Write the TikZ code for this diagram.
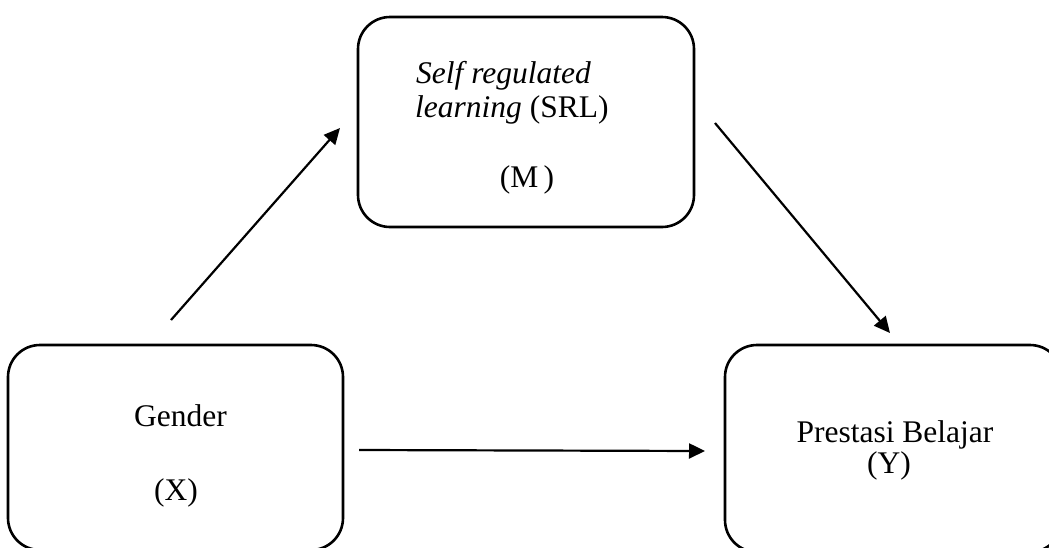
\documentclass[tikz,border=0pt]{standalone}
\usepackage{fontspec}
\setmainfont{Liberation Serif}
\usetikzlibrary{arrows.meta}
\begin{document}
\begin{tikzpicture}[x=1pt,y=-1pt,
  box/.style={draw,line width=2.6pt,rounded corners=32pt,inner sep=0pt},
  lbl/.style={inner sep=0pt,font=\fontsize{31.5}{34}\selectfont},
  arr/.style={line width=2.2pt,-{Triangle[length=16pt,width=15pt]}}]
\useasboundingbox (0,0) rectangle (1049,547);
\clip (0,0) rectangle (1049,547);
% boxes
\node[box,minimum width=336pt,minimum height=210pt] (M) at (526,122) {};
\node[box,minimum width=335pt,minimum height=205pt] (X) at (175.5,447.5) {};
\node[box,minimum width=337pt,minimum height=207pt] (Y) at (893.5,448.5) {};
% texts
\node[lbl,anchor=base west] (m1) at (416,83) {\textit{Self regulated}};
\node[lbl,anchor=base west] (m2) at (415,117) {\textit{learning} (SRL)};
\node[lbl,anchor=base] (m3) at (527,187) {(M\,)};
\node[lbl,anchor=base] (x1) at (180.5,426) {Gender};
\node[lbl,anchor=base] (x2) at (176,500) {(X)};
\node[lbl,anchor=base] (y1) at (895,442) {Prestasi Belajar};
\node[lbl,anchor=base] (y2) at (889,473) {(Y)};
% connector ends
\coordinate (a1) at (171,320);
\coordinate (a2) at (340,128);
\coordinate (b1) at (715,123);
\coordinate (b2) at (890,333);
\coordinate (c1) at (359,450);
\coordinate (c2) at (705,451);
\draw[arr] (a1) -- (a2);
\draw[arr] (b1) -- (b2);
\draw[arr] (c1) -- (c2);
\end{tikzpicture}
\end{document}
